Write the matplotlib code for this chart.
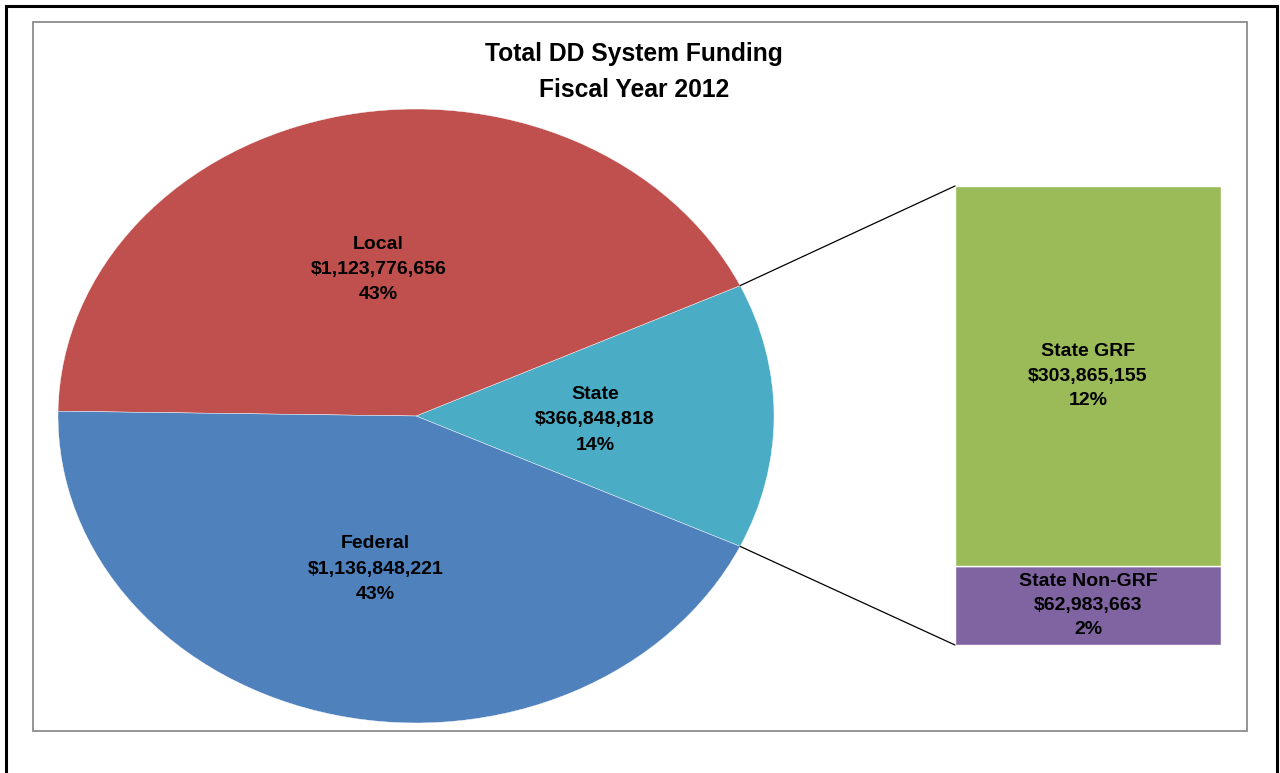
import numpy as np
import matplotlib.pyplot as plt
from matplotlib.patches import Rectangle, ConnectionPatch

plt.rcParams['font.family'] = ['Liberation Sans', 'DejaVu Sans']

# funding sources, FY2012
pie_names = ["State", "Local", "Federal"]
pie_values = [366848818, 1123776656, 1136848221]
pie_colors = ["#4BACC6", "#C0504D", "#4F81BD"]

# breakdown of the State slice (bottom to top in the bar)
bar_names = ["State Non-GRF", "State GRF"]
bar_values = [62983663, 303865155]
bar_colors = ["#8064A2", "#9BBB59"]

total = sum(pie_values)
W, H = 1280, 773


def fig_rect(x0, y0, x1, y1):
    # pixel box (top-left origin) -> figure fraction
    return [x0 / W, 1 - y1 / H, (x1 - x0) / W, (y1 - y0) / H]


def label(name, val):
    return "%s\n$%s\n%d%%" % (name, "{:,}".format(val), round(val / total * 100))


fig = plt.figure(figsize=(W / 100, H / 100), dpi=100)

# borders
fig.patches.append(Rectangle((6 / W, -0.01), (1277 - 6) / W, 1 - 6 / H + 0.01,
                             transform=fig.transFigure, fill=False,
                             edgecolor="black", linewidth=2.2))
fig.patches.append(Rectangle((33 / W, 1 - 731 / H), (1247 - 33) / W, (731 - 22) / H,
                             transform=fig.transFigure, fill=False,
                             edgecolor="#8c8c8c", linewidth=1.3))

fig.text(634 / W, 1 - 72 / H, "Total DD System Funding\nFiscal Year 2012",
         ha="center", va="center", fontsize=17.7, fontweight="bold", linespacing=1.58)

# pie (stretched into an ellipse)
ax = fig.add_axes(fig_rect(58, 109, 774, 723))
frac0 = pie_values[0] / total
wedges, _ = ax.pie(pie_values, colors=pie_colors, startangle=-frac0 * 180,
                   counterclock=True, radius=1,
                   wedgeprops=dict(edgecolor="white", linewidth=0.3))
ax.set_aspect("auto")
ax.set_xlim(-1, 1)
ax.set_ylim(-1, 1)
ax.axis("off")

for w, name, val in zip(wedges, pie_names, pie_values):
    mid = np.deg2rad((w.theta1 + w.theta2) / 2)
    ax.text(0.5 * np.cos(mid), 0.5 * np.sin(mid) - 0.012, label(name, val),
            ha="center", va="center", fontsize=14, fontweight="bold",
            linespacing=1.64)

# stacked bar for the State split
bx = fig.add_axes(fig_rect(955, 186, 1221, 645))
bottom = 0
for name, val, c in zip(bar_names, bar_values, bar_colors):
    bx.bar([0], [val], bottom=bottom, width=1, color=c,
           edgecolor="white", linewidth=1)
    bx.text(0, bottom + val / 2, label(name, val), ha="center", va="center",
            fontsize=14, fontweight="bold", linespacing=1.55)
    bottom += val
bx.set_xlim(-0.5, 0.5)
bx.set_ylim(0, sum(bar_values))
bx.axis("off")

# connector lines from the State slice to the bar
t1 = np.deg2rad(wedges[0].theta1)
t2 = np.deg2rad(wedges[0].theta2)
for t, yb in [(t2, sum(bar_values)), (t1, 0)]:
    con = ConnectionPatch(xyA=(np.cos(t), np.sin(t)), coordsA=ax.transData,
                          xyB=(-0.5, yb), coordsB=bx.transData,
                          color="black", linewidth=0.9)
    fig.add_artist(con)

fig.savefig("out.png", dpi=100)
